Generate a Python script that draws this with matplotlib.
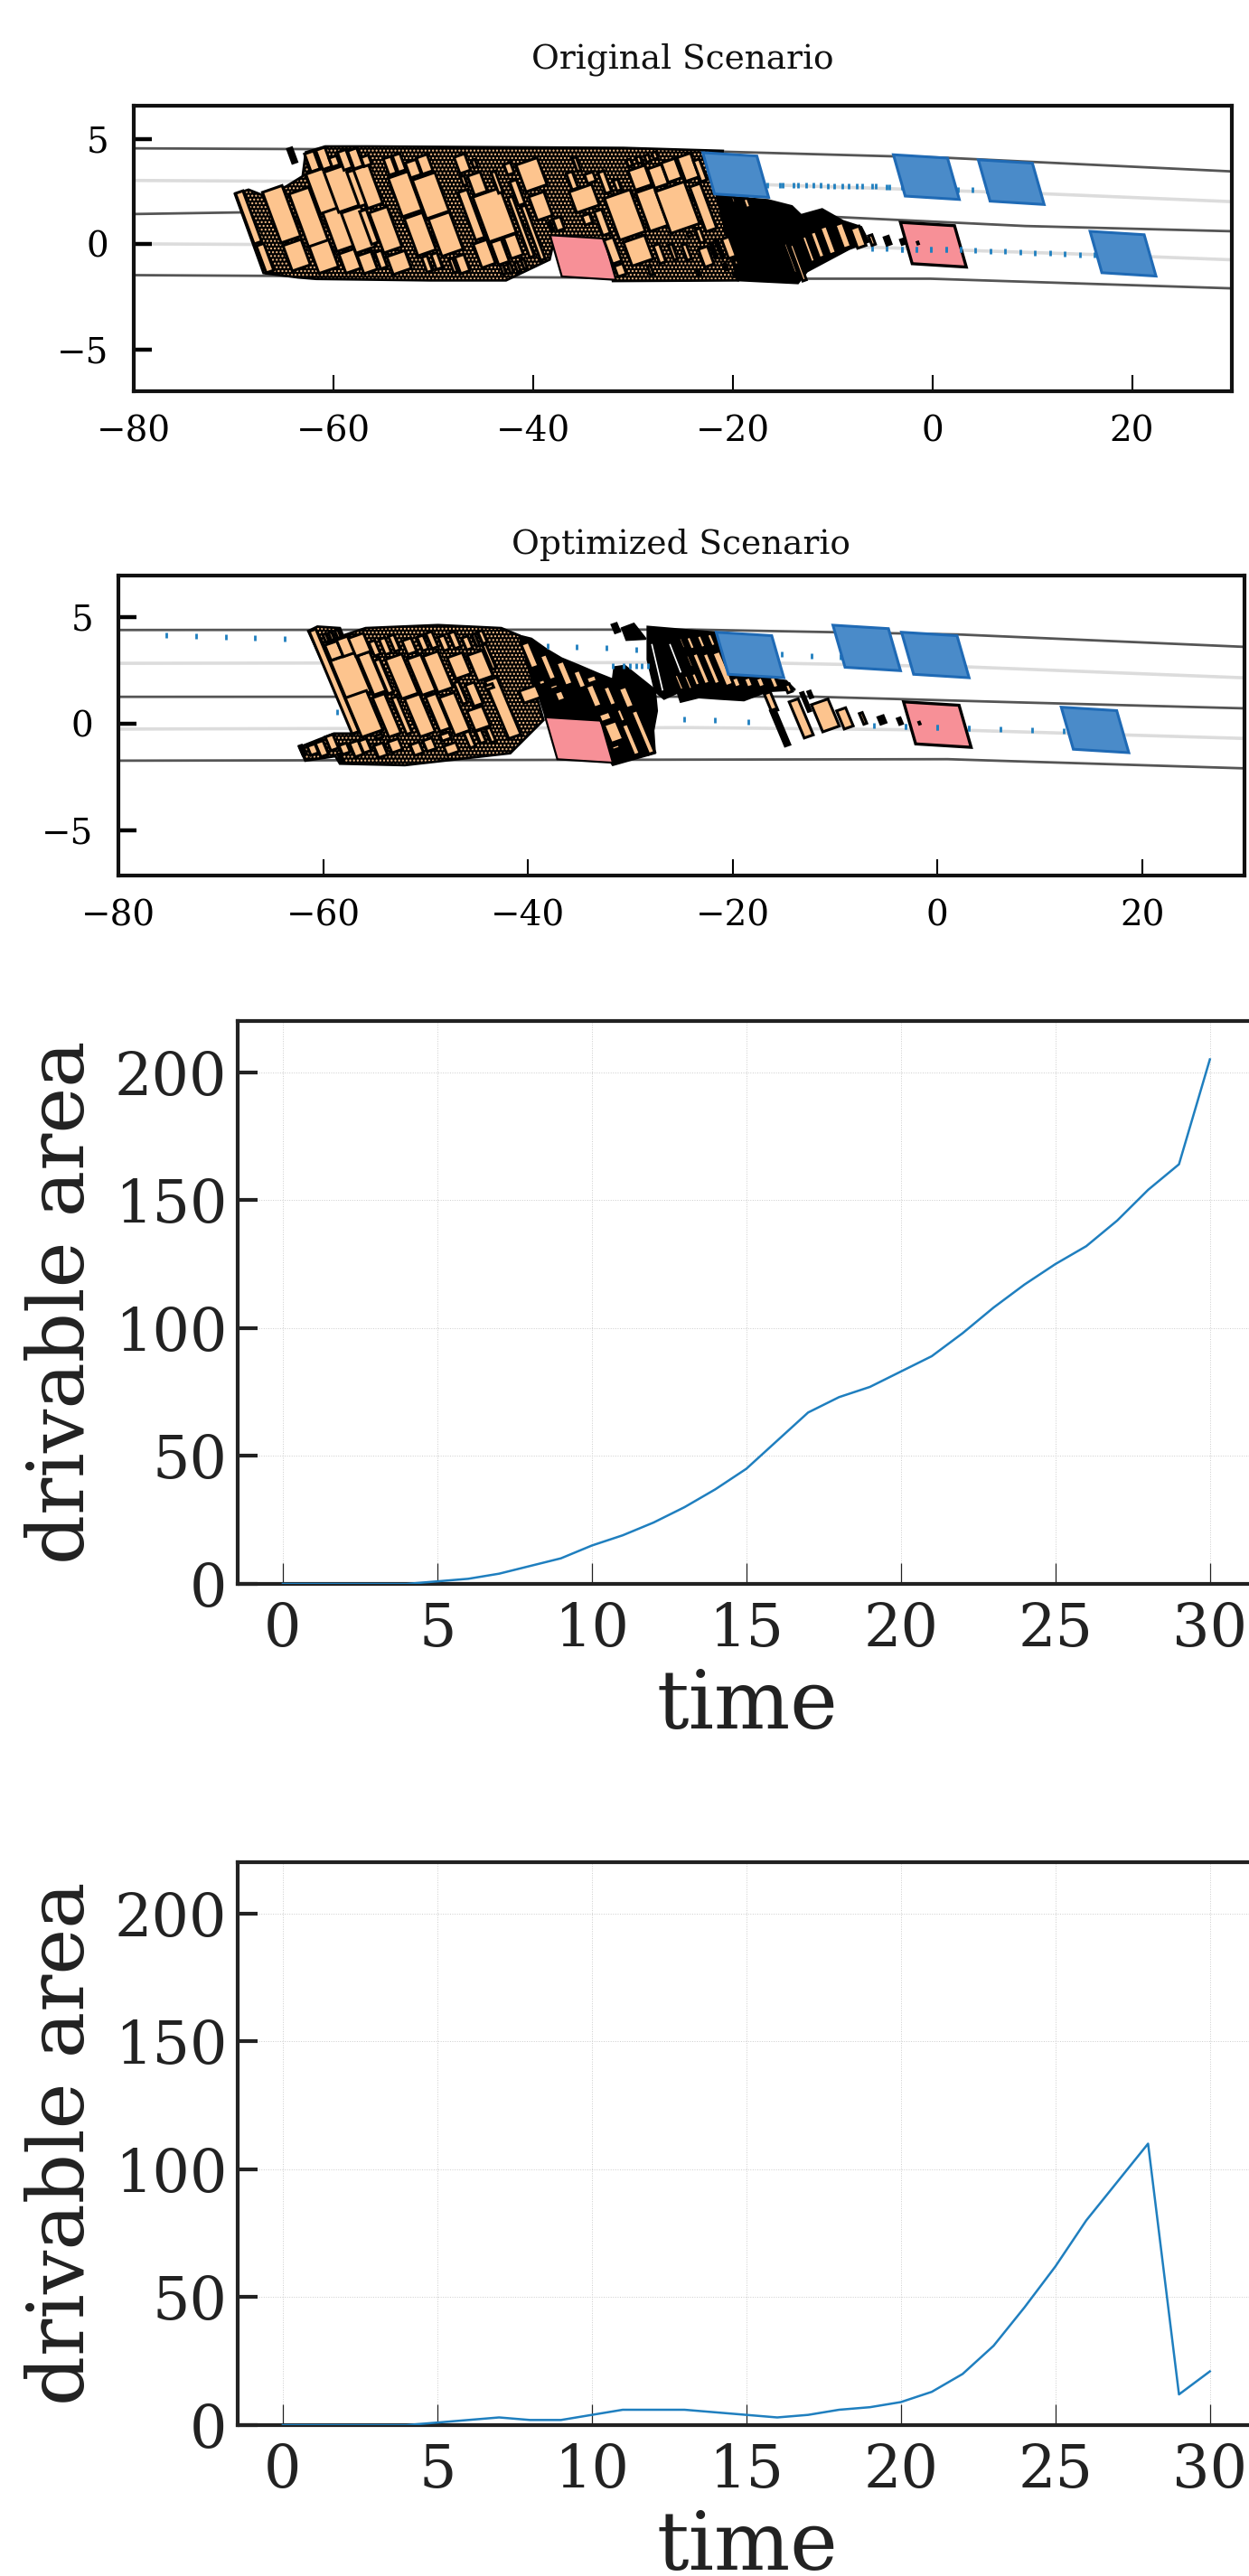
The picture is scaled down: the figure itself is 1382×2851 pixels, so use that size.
#!/usr/bin/env python3
"""Reachable-set scenarios (original / optimized) and drivable area over time."""
import matplotlib
matplotlib.use("Agg")
import matplotlib.pyplot as plt
from matplotlib.patches import Polygon

plt.rcParams["font.family"] = ["DejaVu Serif"]

W, H = 1382, 2851
ORANGE = "#fdc48e"; PINK = "#f79097"; BLUE = "#4a8bc9"; BLUE_EDGE = "#1f6ab5"
DARK_ROAD = "#555555"; LIGHT_ROAD = "#dcdcdc"; DOT = "#1f7fbf"; INK = "#222222"

# road lines, (x, y) per line
ROAD1_DARK = [
    ([-80, -24, 1.4, 30], [4.57, 4.45, 4.12, 3.47]),
    ([-80, -65, -9.6, 9.3, 30], [1.44, 1.55, 1.30, 0.87, 0.62]),
    ([-80, -14.2, -0.2, 30], [-1.47, -1.64, -1.64, -2.10]),
]
ROAD1_LIGHT = [
    ([-80, -20, 10.5, 30], [3.04, 2.89, 2.42, 2.03]),
    ([-80, -5.6, 16.3, 30], [0.02, -0.15, -0.49, -0.74]),
]
ROAD2_DARK = [
    ([-80, -24, 2.1, 30], [4.40, 4.42, 4.19, 3.61]),
    ([-80, -12.4, 8.7, 30], [1.27, 1.28, 1.00, 0.73]),
    ([-80, 1, 30], [-1.72, -1.65, -2.08]),
]
ROAD2_LIGHT = [
    ([-80, -19, 3.1, 30], [2.84, 2.88, 2.67, 2.16]),
    ([-80, -24, 3.1, 30], [-0.24, -0.17, -0.30, -0.68]),
]

# other vehicles and ego, centres
BLUE1_X = [-19.7, -0.6, 7.9, 19.1]
BLUE1_Y = [3.30, 3.20, 2.96, -0.45]
PINK1_X = [-35.0, 0.1]
PINK1_Y = [-0.63, -0.02]
BLUE2_X = [-18.3, -6.9, -0.2, 15.4]
BLUE2_Y = [3.23, 3.56, 3.23, -0.28]
PINK2_X = [-35.0, 0.0]
PINK2_Y = [-0.75, -0.03]

# predicted trajectory dots
DOTS1_X = [-16.56, -15.3, -15.0, -13.9, -13.5, -12.6, -11.95, -11.2, -10.5, -9.8, -9.0, -8.4,
           -7.55, -7.0, -6.05, -5.65, -4.55, -4.3, -3.0, 2.6, 4.0, 5.45,
           -6.05, -4.55, -3.05, -1.6, -0.15, 1.35, 2.8, 4.3, 5.8, 7.3, 8.8, 10.3, 11.8, 13.25, 14.75, 16.25]
DOTS1_Y = [2.83, 2.83, 2.83, 2.82, 2.82, 2.81, 2.80, 2.80, 2.79, 2.78, 2.78, 2.77,
           2.76, 2.76, 2.75, 2.75, 2.74, 2.74, 2.74, 2.60, 2.58, 2.56,
           -0.20, -0.21, -0.23, -0.23, -0.23, -0.23, -0.26, -0.30, -0.32, -0.34, -0.36, -0.40, -0.43, -0.46, -0.49, -0.52]
DOTS2_X = [-75.3, -72.4, -69.5, -66.65, -63.8, -38.1, -35.2, -32.3, -29.45, -31.75, -30.65, -30.05,
           -29.45, -28.85, -28.3, -15.2, -12.3, -9.45, -58.6, -24.7, -21.7, -18.5, -6.2, -3.1, 0.0,
           3.1, 6.2, 9.25, 12.35]
DOTS2_Y = [4.14, 4.10, 4.06, 4.02, 3.98, 3.64, 3.59, 3.55, 3.50, 2.73, 2.73, 2.73,
           2.73, 2.73, 2.73, 3.26, 3.20, 3.15, 0.55, 0.21, 0.17, 0.11, -0.07, -0.13, -0.17,
           -0.21, -0.25, -0.30, -0.34]

# occupancy outlines, the dotted/solid black mass under the cells
MASS1_DOTTED = [(-69.86, 2.39), (-67.0, -1.37), (-63.53, -1.58), (-61.72, -1.65), (-50.25, -1.72), (-42.71, -1.72),
                (-38.34, -0.73), (-37.9, 0.2), (-32.5, 0.2), (-32.0, -1.75), (-19.5, -1.72), (-21.6, 2.32),
                (-21.0, 4.45), (-30.95, 4.59), (-56.59, 4.66), (-60.81, 4.66), (-62.77, 4.38), (-63.08, 3.24),
                (-64.74, 2.75), (-67.0, 2.32), (-68.5, 2.6)]
MASS1_SOLID = [[(-21.6, 2.32), (-19.5, -1.72), (-13.46, -1.86), (-12.55, -1.3), (-8.33, -0.23), (-6.37, 0.12),
                (-7.12, 0.83), (-8.93, 1.11), (-11.04, 1.68), (-13.15, 1.4), (-14.06, 1.82), (-16.47, 2.11)]]
MASS2_DOTTED = [(-61.45, 4.35), (-60.56, 4.56), (-58.36, 4.49), (-58.06, 4.14), (-55.85, 4.49), (-48.78, 4.63),
                (-42.6, 4.49), (-40.83, 4.14), (-38.48, 0.18), (-41.72, -1.37), (-52.02, -1.93), (-58.36, -1.86),
                (-58.8, -1.51), (-61.74, -1.72), (-62.33, -1.09), (-58.94, -0.45), (-56.88, -0.45)]
MASS2_SOLID = [
    [(-40.83, 4.14), (-39.65, 4.0), (-38.18, 3.5), (-36.71, 3.08), (-34.94, 2.73), (-33.18, 2.37), (-31.71, 2.09),
     (-31.56, 2.66), (-30.53, 2.73), (-27.58, 1.6), (-27.38, 0.61), (-27.73, -0.31), (-27.58, -1.37), (-31.71, -1.93),
     (-32.3, -1.5), (-34.2, 0.1), (-38.18, 0.18)],
    [(-30.82, 4.49), (-29.65, 4.7), (-28.47, 3.98), (-30.38, 3.93)],
    [(-28.32, 4.56), (-21.4, 4.28), (-18.9, 2.3), (-14.77, 2.02), (-13.89, 1.6), (-16.54, 1.53), (-18.9, 1.1),
     (-21.25, 1.17), (-23.31, 1.24), (-25.08, 1.03), (-25.38, 1.46), (-26.7, 1.17), (-27.58, 1.53), (-28.32, 3.01)],
]
GAPS2 = [([-27.88, -26.85], [3.71, 1.6]), ([-26.11, -25.08], [3.71, 2.44])]

# reachable set cells: centre x, centre y, width, height
CELLS1 = [
    (-68.5, 1.28, .75, 2.41), (-66.85, -.66, .75, 1.28), (-65.19, 1.43, 1.96, 2.41), (-63.68, -.52, 1.81, 1.21),
    (-62.47, 1.28, 1.96, 2.55), (-60.96, -.59, 1.96, 1.28), (-61.12, 2.53, 1.81, 1.91), (-59.46, .72, 1.81, 1.84),
    (-58.34, -.8, 1.51, .92), (-59.15, 2.65, 2.11, 1.91), (-57.5, .69, 1.96, 1.91), (-57.65, 2.67, .75, 1.63),
    (-56.53, 2.75, 1.51, 1.84), (-62.11, 3.95, .91, .85), (-60.96, 4.09, .91, .92), (-59.91, 3.95, .75, .43),
    (-58.85, 4.02, .84, .85), (-57.8, 4.09, .91, .85), (-56.71, 3.98, .75, .43), (-56.44, .83, .66, 1.56),
    (-54.78, .69, 1.81, 1.91), (-56.59, -.87, 1.36, .85), (-55.23, -.73, .66, .78), (-53.42, -.87, 1.81, .85),
    (-52.82, 2.39, 1.96, 1.84), (-50.25, 2.32, 2.26, 1.84), (-51.31, .48, 1.81, 1.77), (-48.75, .48, 2.11, 1.77),
    (-54.33, 3.74, .75, .78), (-53.42, 3.88, .75, .78), (-52.0, 3.6, 1.06, .71), (-50.86, 3.81, 1.06, .78),
    (-50.62, -.94, .54, .71), (-49.65, -.8, .6, .71), (-47.09, -.94, .91, .78), (-48.0, -1.01, .36, .64),
    (-47.09, 3.84, 1.06, .78), (-45.88, 3.84, .36, .35), (-45.58, 2.89, 1.27, .92), (-46.94, 3.03, .36, .43),
    (-46.18, 1.4, .91, 2.27), (-43.86, 1.4, 2.72, 2.13), (-44.88, -.45, 1.36, 1.13), (-43.32, -.37, 1.06, 1.06),
    (-41.96, -.09, 1.21, .99), (-43.62, 2.96, .42, .99), (-42.41, 3.6, .66, .5), (-41.57, 2.46, .66, 1.13),
    (-40.15, 3.31, 2.11, 1.28), (-40.0, .55, .45, 2.55), (-41.2, .83, .45, 2.84), (-39.24, 1.82, 1.51, 1.13),
    (-43.01, -1.2, .3, .43), (-42.26, -1.15, .3, .43), (-41.57, -1.08, .3, .43), (-40.9, -.94, .3, .43),
    (-34.88, 2.18, 2.26, .99), (-30.8, 1.4, 2.56, 1.99), (-28.09, 1.68, 1.81, 1.84), (-25.52, 1.75, 2.87, 1.99),
    (-22.96, 1.75, 1.06, 2.13), (-29.29, 3.17, 1.66, .92), (-27.48, 3.24, 1.36, .92), (-26.13, 3.52, 1.36, .92),
    (-24.47, 3.67, 1.36, 1.13), (-23.26, 3.52, .6, .99), (-29.45, -.3, 2.11, 1.13), (-32.01, -.3, .91, 1.13),
    (-33.07, 1.04, .75, 1.13), (-34.57, 1.19, .75, .43), (-37.44, .97, .75, .57), (-38.2, .83, .24, .43),
    (-34.27, 3.17, .84, .43), (-36.08, 3.03, .6, .78), (-32.82, 2.96, .6, .99), (-31.56, 2.82, .45, .5),
    (-35.63, 3.81, .36, .64), (-30.35, 3.88, .4, .3), (-29.39, 4.02, .4, .3), (-28.54, 4.09, .4, .3),
    (-27.79, 4.23, .4, .3), (-31.26, -1.23, .84, .5), (-27.33, -.45, .6, .85), (-25.98, -.37, .36, .71),
    (-24.62, -.37, .45, .71), (-22.66, -.59, .91, .85), (-20.39, -.16, .75, .92), (-21.3, -.23, .24, .85),
    (-21.9, -.3, .24, .71), (-23.26, .41, .45, .64), (-24.32, .48, .36, .17), (-28.24, -1.23, .3, .43),
    (-23.41, -1.37, .24, .21), (-19.64, -.87, .36, .21), (-19.79, -1.44, .24, .17), (-20.7, -1.08, .24, .28),
    (-7.42, .34, .84, .92), (-8.93, .41, .75, 1.13), (-10.44, .19, .66, 1.28), (-11.5, -.02, .54, 1.21),
    (-12.4, -.23, .42, 1.21), (-13.46, -.87, .36, 1.7), (-14.21, -.66, .3, 1.42), (-14.96, -.45, .24, 1.28),
    (-15.27, .76, .24, .85), (-16.02, .83, .18, .99), (-16.62, .55, .15, 1.42), (-18.58, 1.96, .45, .43),
    (-19.94, 2.11, .3, .28), (-6.05, .2, .35, .45),
]
BLACK_CELLS1 = [(-64.13, 4.23, .5, .7), (-4.48, .17, .5, .4), (-2.98, .12, .35, .25), (-1.45, .06, .15, .12)]
CELLS2 = [
    (-58.94, 1.99, .65, 4.8), (-57.32, 2.23, 2.36, 1.84), (-55.26, 2.37, 1.18, 1.84), (-56.0, .47, 2.06, 1.84),
    (-58.94, 3.43, 1.18, .71), (-57.77, 3.64, 1.18, .78), (-56.44, 3.71, 1.47, .85), (-59.74, 4.03, .3, .35),
    (-59.18, 4.11, .3, .35), (-58.56, 4.21, .3, .35), (-54.08, 2.23, .53, 1.55), (-52.32, 2.23, 1.62, 1.84),
    (-50.4, 2.3, 1.33, 1.69), (-48.78, 2.44, 1.47, 1.69), (-46.72, 2.73, 1.47, .99), (-44.66, 2.73, 1.47, 1.2),
    (-53.79, .4, 1.18, 1.84), (-52.32, .4, .53, 1.69), (-50.55, .4, 1.47, 1.77), (-48.78, .54, 1.03, 1.62),
    (-47.16, .47, 1.47, 1.77), (-44.81, .26, 1.47, .92), (-42.45, .75, 1.18, 2.68), (-54.97, 3.55, .59, .64),
    (-53.94, 3.65, .59, .71), (-53.05, 3.79, .53, .71), (-51.58, 3.64, .88, .64), (-50.26, 3.79, .59, .64),
    (-49.37, 3.93, .59, .71), (-48.2, 3.79, .59, .64), (-47.16, 3.93, .59, .71), (-45.93, 3.79, .59, .56),
    (-45.1, 3.93, .29, .56), (-44.43, 4.07, .44, .56), (-43.78, 3.15, .35, 1.13), (-46.57, 1.46, .44, .99),
    (-45.25, 1.39, .88, .99), (-43.78, 1.74, .74, .17), (-39.8, 3.22, .74, 1.13), (-38.03, 2.66, .65, 1.13),
    (-36.42, 2.37, .74, 1.06), (-34.94, 2.09, .65, .78), (-33.62, 2.09, .88, .21), (-39.8, 1.39, 1.62, .56),
    (-36.86, 1.31, .74, .42), (-37.45, 1.74, .74, .17), (-38.62, 1.95, .59, .21), (-62.04, -1.23, .24, .42),
    (-61.0, -1.2, .74, .42), (-60.12, -1.16, .74, .64), (-59.15, -.87, .74, .64), (-57.91, -1.16, .74, .42),
    (-56.74, -1.16, .82, .64), (-55.91, -1.02, .74, .56), (-54.38, -1.23, .88, .56), (-52.97, -1.02, 1.03, .5),
    (-50.85, -1.16, .88, .5), (-49.61, -.97, .88, .5), (-47.46, -1.16, 1.18, .42), (-48.05, -.59, .88, .28),
    (-45.69, -.73, .53, .71), (-44.6, -.59, .53, .56), (-43.63, -.52, .44, .64), (-58.3, -1.58, .24, .35),
    (-54.53, -.59, .59, .14), (-33.56, 1.31, .74, .99), (-32.0, 1.31, .59, .85), (-30.38, 1.24, .74, .92),
    (-32.44, .33, 1.03, .35), (-30.91, .4, .44, .56), (-31.62, -.38, 1.18, .85), (-29.94, -.73, .59, 1.41),
    (-28.76, -.38, .59, 1.98), (-33.77, 2.09, .88, .28), (-31.41, -1.09, .74, .17), (-24.93, 3.79, .29, .5),
    (-24.11, 3.79, .44, .56), (-23.08, 3.86, .44, .56), (-22.08, 3.93, .44, .56), (-24.2, 2.94, .29, .56),
    (-23.08, 2.59, .53, 1.41), (-22.08, 2.59, .53, 1.41), (-20.96, 2.59, .74, 1.55), (-25.23, 1.95, .35, .71),
    (-24.34, 1.95, .35, .64), (-23.61, 2.09, .44, .56), (-27.0, 4.07, .24, .28), (-19.63, 1.95, .59, .42),
    (-18.45, 1.95, .59, .42), (-17.28, 1.95, .59, .42), (-15.95, 1.95, .53, .5), (-16.25, 1.03, .59, .85),
    (-13.3, .26, .88, 1.69), (-14.54, 1.67, .44, .35), (-12.86, 1.03, .24, .85), (-12.42, 1.38, .24, .28),
    (-10.94, .4, 1.62, 1.27), (-9.03, .26, .88, .85), (-7.26, .26, .29, .5),
]
BLACK_CELLS2 = [(-31.41, 4.49, .5, .4), (-5.41, .19, .59, .35), (-3.66, .13, .35, .3), (-1.75, .04, .15, .12),
                (-15.36, -.17, .53, 1.69)]

# drivable area per time step
TIME = list(range(31))
AREA_ORIG = [0, 0, 0, 0, 0, 1, 2, 4, 7, 10, 15, 19, 24, 30, 37, 45, 56, 67, 73, 77, 83, 89, 98, 108, 117, 125, 132,
             142, 154, 164, 205]
AREA_OPT = [0, 0, 0, 0, 0, 1, 2, 3, 2, 2, 4, 6, 6, 6, 5, 4, 3, 4, 6, 7, 9, 13, 20, 31, 46, 62, 80, 95, 110, 12, 21]


def add_axes(fig, left, top, right, bottom):
    return fig.add_axes([left / W, 1 - bottom / H, (right - left) / W, (bottom - top) / H])


def car(x, y):
    # sheared box as the reference draws them
    pts = []
    for u, v in ((-1, 1), (1, 1), (1, -1), (-1, -1)):
        pts.append((x + u * 2.71 - v * 0.59, y - u * 0.08 + v * 0.985))
    return pts


def cell(x, y, w, h, s1, s2):
    a, b = w / 2, h / 2
    return [(x + u * a - v * b * s2, y + u * a * s1 + v * b)
            for u, v in ((-1, 1), (1, 1), (1, -1), (-1, -1))]


def scenario(ax, title, ylim, dark, light, blue_x, blue_y, pink_x, pink_y, dots_x, dots_y,
             dotted, solid, cells, black_cells, s1, s2, gaps=()):
    for xs, ys in dark:
        ax.plot(xs, ys, color=DARK_ROAD, lw=2.0, zorder=1)
    for xs, ys in light:
        ax.plot(xs, ys, color=LIGHT_ROAD, lw=2.6, zorder=1)
    ax.add_patch(Polygon(dotted, facecolor="black", edgecolor=ORANGE, hatch="....", lw=0, zorder=2))
    ax.add_patch(Polygon(dotted, facecolor="none", edgecolor="black", lw=2, zorder=2))
    for pts in solid:
        ax.add_patch(Polygon(pts, facecolor="black", edgecolor="black", lw=1.5, zorder=2.1))
    for xs, ys in gaps:
        ax.plot(xs, ys, color="white", lw=1.2, zorder=2.2)
    ax.add_patch(Polygon(car(pink_x[0], pink_y[0]), facecolor=PINK, edgecolor="black", lw=1.6, zorder=2.5))
    ax.add_patch(Polygon(car(pink_x[1], pink_y[1]), facecolor=PINK, edgecolor="black", lw=2.4, zorder=2.5))
    for c in cells:
        ax.add_patch(Polygon(cell(*c, s1, s2), facecolor=ORANGE, edgecolor="black", lw=2.2, zorder=3,
                             joinstyle="miter"))
    for c in black_cells:
        ax.add_patch(Polygon(cell(*c, s1, s2), facecolor="black", edgecolor="black", lw=1.5, zorder=6))
    ax.plot(dots_x, dots_y, ls="none", marker="|", ms=4.5, mew=2, color=DOT, zorder=2.8)
    ax.plot([x for x, y in zip(dots_x, dots_y) if -3.2 < x < 3.2 and y < 1],
            [y for x, y in zip(dots_x, dots_y) if -3.2 < x < 3.2 and y < 1],
            ls="none", marker="|", ms=4.5, mew=2, color=DOT, zorder=5)
    for x, y in zip(blue_x, blue_y):
        ax.add_patch(Polygon(car(x, y), facecolor=BLUE, edgecolor=BLUE_EDGE, lw=2.2, zorder=4))
    ax.set_xlim(-80, 30)
    ax.set_ylim(*ylim)
    ax.set_xticks([-80, -60, -40, -20, 0, 20])
    ax.set_yticks([-5, 0, 5])
    ax.tick_params(axis="y", direction="in", length=14.5, width=3.2, pad=20, labelsize=28)
    ax.tick_params(axis="x", direction="in", length=13, width=1.5, pad=19, labelsize=28)
    for s in ax.spines.values():
        s.set_linewidth(3.0)
        s.set_color("#111111")
    return ax


def area_plot(ax, values):
    ax.plot(TIME, values, color=DOT, lw=1.8, zorder=3)
    ax.set_xlim(-1.46, 31.5)
    ax.set_ylim(0, 220)
    ax.set_xticks(range(0, 31, 5))
    ax.set_yticks(range(0, 201, 50))
    ax.grid(True, color="#cccccc", lw=0.7, ls=":")
    ax.tick_params(axis="y", direction="in", length=16, width=3, pad=8.5, labelsize=47, colors=INK)
    ax.tick_params(axis="x", direction="in", length=16.5, width=0.9, pad=14, labelsize=47, colors=INK)
    for s in ax.spines.values():
        s.set_linewidth(3.0)
        s.set_color(INK)
    ax.set_xlabel("time", fontsize=64, color=INK, labelpad=6)
    ax.set_ylabel("drivable area", fontsize=62, color=INK)
    ax.yaxis.set_label_coords(-0.135, 0.5)


def main():
    fig = plt.figure(figsize=(W / 100, H / 100), dpi=100, facecolor="white")

    ax1 = add_axes(fig, 148, 117, 1363, 433)
    scenario(ax1, "Original Scenario", (-7, 6.6), ROAD1_DARK, ROAD1_LIGHT, BLUE1_X, BLUE1_Y, PINK1_X, PINK1_Y,
             DOTS1_X, DOTS1_Y, MASS1_DOTTED, MASS1_SOLID, CELLS1, BLACK_CELLS1, 0.165, 0.776)
    ax1.set_title("Original Scenario", fontsize=27, pad=30, color="#111111")

    ax2 = add_axes(fig, 131, 637, 1377, 969)
    scenario(ax2, "Optimized Scenario", (-7.1, 6.95), ROAD2_DARK, ROAD2_LIGHT, BLUE2_X, BLUE2_Y, PINK2_X, PINK2_Y,
             DOTS2_X, DOTS2_Y, MASS2_DOTTED, MASS2_SOLID, CELLS2, BLACK_CELLS2, 0.168, 0.875, gaps=GAPS2)
    ax2.set_title("Optimized Scenario", fontsize=27, pad=17, color="#111111")

    area_plot(add_axes(fig, 263, 1130, 1390, 1753), AREA_ORIG)
    area_plot(add_axes(fig, 263, 2061, 1390, 2684), AREA_OPT)

    fig.savefig("out.png", dpi=100, facecolor="white")


if __name__ == "__main__":
    main()
